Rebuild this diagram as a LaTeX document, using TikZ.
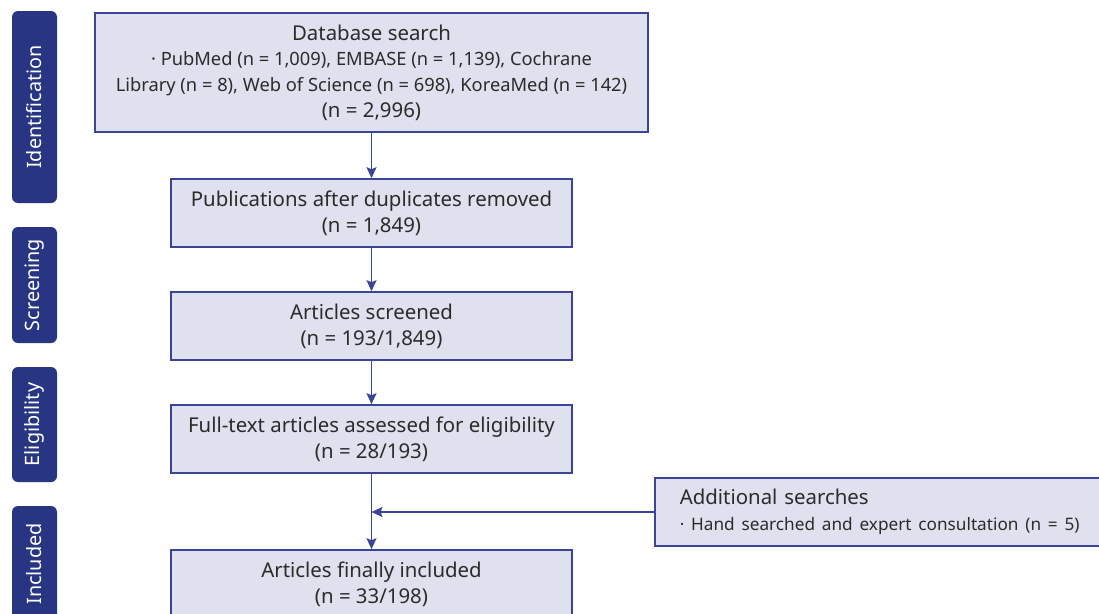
\documentclass[tikz,border=0pt]{standalone}
\usepackage{fontspec}
\setmainfont{Noto Sans}
\usetikzlibrary{arrows.meta}
\definecolor{boxfill}{HTML}{DFE1EE}
\definecolor{boxline}{HTML}{3A4499}
\definecolor{navy}{HTML}{283583}
\definecolor{txt}{HTML}{2B2B2B}
\newcommand{\smalltxt}{\fontsize{18.3}{26}\selectfont}
\newcommand{\addtxt}{\fontsize{17.2}{26}\selectfont}
\begin{document}
\begin{tikzpicture}[x=1pt,y=-1pt,
  box/.style={draw=boxline, fill=boxfill, line width=1.6pt, text=txt, align=center, inner sep=0pt, font=\fontsize{20.4}{26}\selectfont},
  phase/.style={fill=navy, rounded corners=6pt, text=white, rotate=90, minimum height=45pt, inner sep=0pt, font=\fontsize{19.8}{22}\selectfont},
  arr/.style={draw=boxline, line width=1.6pt, -{Stealth[length=11pt,width=10pt,inset=2pt]}}]
\useasboundingbox (0,0) rectangle (1099,613);
\clip (0,0) rectangle (1099,613);
\fill[white] (0,0) rectangle (1099,613);
\node[phase, minimum width=192pt] (p1) at (34.5,107) {Identification};
\node[phase, minimum width=116pt] (p2) at (34.5,285) {Screening};
\node[phase, minimum width=115pt] (p3) at (34.5,424.5) {Eligibility};
\node[phase, minimum width=116pt] (p4) at (34.5,564) {Included};

\node[box, minimum width=553pt, minimum height=119pt] (db) at (371.5,72.5)
  {Database search\\[-1pt]
   {\smalltxt · PubMed (n = 1,009), EMBASE (n = 1,139), Cochrane}\\
   {\smalltxt Library (n = 8), Web of Science (n = 698), KoreaMed (n = 142)}\\
   (n = 2,996)};
\node[box, minimum width=401pt, minimum height=68pt] (pub) at (371.5,213)
  {Publications after duplicates removed\\(n = 1,849)};
\node[box, minimum width=401pt, minimum height=68pt] (scr) at (371.5,326)
  {Articles screened\\(n = 193/1,849)};
\node[box, minimum width=401pt, minimum height=68pt] (ft) at (371.5,439)
  {Full-text articles assessed for eligibility\\(n = 28/193)};
\node[box, minimum width=401pt, minimum height=68pt] (inc) at (371.5,584)
  {Articles finally included\\(n = 33/198)};
\node[box, anchor=west, align=left, text width=440pt, inner xsep=25pt, minimum height=68pt] (add) at (654,512)
  {Additional searches\\{\addtxt · Hand searched and expert consultation (n = 5)}};
\coordinate (m) at (371.5,512);

\draw[arr] (db.south) -- (pub.north);
\draw[arr] (pub.south) -- (scr.north);
\draw[arr] (scr.south) -- (ft.north);
\draw[arr] (ft.south) -- (inc.north);
\draw[arr] (add.west) -- (m);
\end{tikzpicture}
\end{document}
